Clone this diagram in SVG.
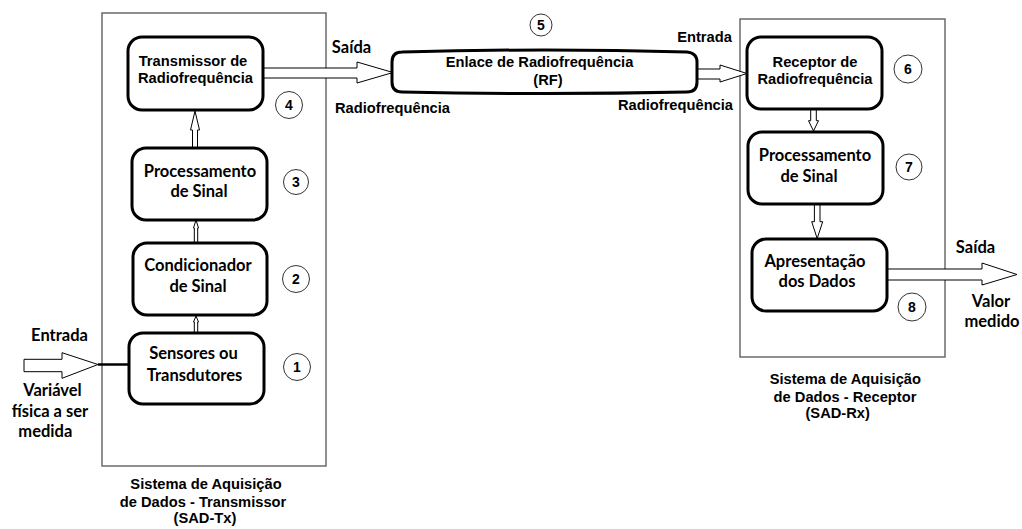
<svg xmlns="http://www.w3.org/2000/svg" width="1022" height="529" viewBox="0 0 1022 529">
<style>
.cont{fill:none;stroke:#6b6b6b;stroke-width:1.5}
.box{fill:#fff;stroke:#000;stroke-width:3}
.arr{fill:#fff;stroke:#000;stroke-width:1}
.num{fill:#fff;stroke:#333;stroke-width:1}
.a{font-family:"Liberation Sans",Arial,sans-serif;font-weight:bold;font-size:14.7px;fill:#000;text-anchor:middle}
.c{font-family:Lato,"Liberation Sans",sans-serif;font-weight:bold;font-size:16.5px;fill:#000;text-anchor:middle}
.n{font-family:"Liberation Sans",Arial,sans-serif;font-weight:bold;font-size:14px;fill:#000;text-anchor:middle}
</style>
<rect width="1022" height="529" fill="#fff"/>
<g id="containers">
<rect class="cont" x="102" y="13" width="224" height="453"/>
<rect class="cont" x="740" y="19" width="205" height="338"/>
</g>
<g id="connectors">
<path class="arr" d="M263,68 H357 V62 L393,72.5 L357,83 V78 H263 Z"/>
<path class="arr" d="M697,69 H720 V65 L747,73.5 L720,82 V79 H697 Z"/>
<path class="arr" d="M24,359.3 H62 V352.7 L98,364.5 L62,378.3 V371.7 H24 Z"/>
<line x1="98" y1="364.5" x2="129" y2="364.5" stroke="#000" stroke-width="2.5"/>
<path class="arr" d="M887,269 H982 V263 L1017,274.5 L982,285 V280 H887 Z"/>
<path class="arr" d="M192.5,148 V130 H190.5 L195,111 L199.5,130 H197.5 V148 Z"/>
<path class="arr" d="M194.3,243 V228 H193.5 L196,220 L198.5,228 H197.7 V243 Z"/>
<path class="arr" d="M194.3,333 V322 H193.5 L196,316 L198.5,322 H197.7 V333 Z"/>
<path class="arr" d="M810.7,109 V120.7 H808.5 L813.5,131 L818.5,120.7 H816.3 V109 Z"/>
<path class="arr" d="M814.4,204 V221.7 H811.7 L817.2,238.5 L822.7,221.7 H820 V204 Z"/>
</g>
<g id="n1">
<rect class="box" x="129" y="333" width="135" height="71" rx="14"/>
<text class="c" x="193.5" y="359.3">Sensores ou</text>
<text class="c" x="194.5" y="380.7">Transdutores</text>
<circle class="num" cx="297" cy="367" r="13.5"/>
<text class="n" x="297" y="372">1</text>
</g>
<g id="n2">
<rect class="box" x="133" y="243" width="134" height="72" rx="14"/>
<text class="c" x="198" y="270.7">Condicionador</text>
<text class="c" x="198" y="291.7">de Sinal</text>
<circle class="num" cx="296" cy="279" r="13.5"/>
<text class="n" x="296" y="284">2</text>
</g>
<g id="n3">
<rect class="box" x="132" y="148" width="135" height="72" rx="14"/>
<text class="c" x="200" y="176.7">Processamento</text>
<text class="c" x="199" y="197.3">de Sinal</text>
<circle class="num" cx="296" cy="182" r="12.5"/>
<text class="n" x="296" y="187">3</text>
</g>
<g id="n4">
<rect class="box" x="128" y="37" width="135" height="73" rx="14"/>
<text class="a" x="193" y="65.5">Transmissor de</text>
<text class="a" x="195.5" y="83">Radiofrequência</text>
<circle class="num" cx="289" cy="105" r="13.5"/>
<text class="n" x="289" y="110">4</text>
</g>
<g id="n5">
<path class="box" d="M402,52 Q545,48 687,52 Q697,53 697,62 V82 Q697,92 687,92 Q545,95 402,92 Q392,92 392,82 V62 Q392,52 402,52 Z"/>
<text class="a" x="539.5" y="67.3">Enlace de Radiofrequência</text>
<text class="a" x="548" y="85">(RF)</text>
<circle class="num" cx="541" cy="25" r="11"/>
<text class="n" x="541" y="30">5</text>
</g>
<g id="n6">
<rect class="box" x="747" y="37" width="135" height="72" rx="14"/>
<text class="a" x="815" y="66.7">Receptor de</text>
<text class="a" x="815" y="84">Radiofrequência</text>
<circle class="num" cx="908" cy="69" r="14"/>
<text class="n" x="908" y="74">6</text>
</g>
<g id="n7">
<rect class="box" x="748" y="132" width="135" height="72" rx="14"/>
<text class="c" x="815" y="160.7">Processamento</text>
<text class="c" x="809" y="181.7">de Sinal</text>
<circle class="num" cx="909" cy="167" r="13"/>
<text class="n" x="909" y="172">7</text>
</g>
<g id="n8">
<rect class="box" x="752" y="239" width="135" height="72" rx="14"/>
<text class="c" x="815" y="266.7">Apresentação</text>
<text class="c" x="817" y="287.3">dos Dados</text>
<circle class="num" cx="912" cy="307" r="14"/>
<text class="n" x="912" y="312">8</text>
</g>
<g id="labels">
<text class="c" x="59.5" y="341">Entrada</text>
<text class="c" x="52.5" y="396">Variável</text>
<text class="c" x="50" y="416.7">física a ser</text>
<text class="c" x="45.3" y="437">medida</text>
<text class="c" x="351.5" y="52.7">Saída</text>
<text class="a" x="392.5" y="113.3">Radiofrequência</text>
<text class="a" x="704.5" y="41.7">Entrada</text>
<text class="a" x="675.5" y="110">Radiofrequência</text>
<text class="c" x="975.5" y="253.3">Saída</text>
<text class="c" x="991" y="306.7">Valor</text>
<text class="c" x="992" y="326.7">medido</text>
<text class="a" x="206" y="489.3">Sistema de Aquisição</text>
<text class="a" x="203" y="507.3">de Dados - Transmissor</text>
<text class="a" x="205" y="523.3">(SAD-Tx)</text>
<text class="a" x="845.3" y="384.3">Sistema de Aquisição</text>
<text class="a" x="845" y="401.7">de Dados - Receptor</text>
<text class="a" x="837.7" y="418.3">(SAD-Rx)</text>
</g>
</svg>
